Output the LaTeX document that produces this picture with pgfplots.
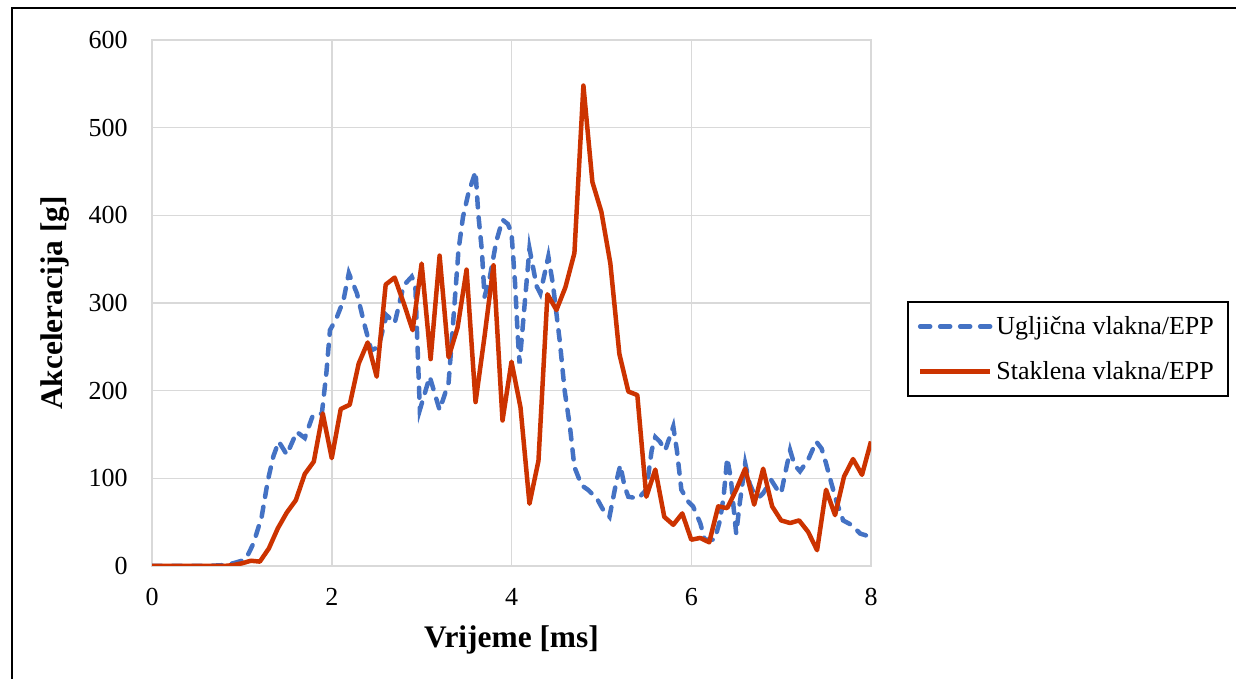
\documentclass[border=0pt]{standalone}
\usepackage{fontspec}
\setmainfont{Liberation Serif}
\usepackage{pgfplots}
\pgfplotsset{compat=1.18}
\definecolor{cblue}{HTML}{4472C4}
\definecolor{cred}{HTML}{CC3300}
\definecolor{cgrid}{HTML}{D9D9D9}
\definecolor{caxis}{HTML}{BFBFBF}
\begin{document}
\begin{tikzpicture}
\useasboundingbox (0,0) rectangle (618pt,339.5pt);
\draw[line width=1pt,black] (6pt,-20pt) -- (6pt,335.5pt) -- (640pt,335.5pt);
\begin{axis}[
  at={(76pt,56.5pt)}, anchor=south west,
  scale only axis, width=359.5pt, height=263pt,
  xmin=0, xmax=8, ymin=0, ymax=600,
  xtick={0,2,4,6,8}, ytick={0,100,200,300,400,500,600},
  grid=major, major grid style={cgrid, line width=0.75pt},
  axis line style={draw=cgrid, line width=0.75pt},
  major tick length=0pt,
  /pgf/number format/assume math mode=true,
  tick label style={font=\fontsize{13}{15}\selectfont},
  yticklabel style={anchor=east, inner sep=0pt, xshift=-12pt},
  xticklabel style={anchor=north, inner sep=0pt, yshift=-11pt},
  xlabel={\textbf{Vrijeme [ms]}},
  ylabel={\textbf{Akceleracija [g]}},
  label style={font=\fontsize{15.7}{18}\selectfont},
  xlabel style={at={(axis description cs:0.5,-0.141)}, anchor=center},
  ylabel style={at={(axis description cs:-0.135,0.5)}, anchor=center},
  legend style={at={(1.050,0.4125)}, anchor=west, draw=black, line width=1pt,
    font=\fontsize{13}{15}\selectfont, row sep=8pt, inner xsep=5pt, inner ysep=5pt,
    cells={anchor=west}},
  legend cell align=left,
  legend image code/.code={\draw[#1] (0pt,0pt) -- (35pt,0pt);},
]
\addplot[cblue, line width=2.25pt, line cap=round, dash pattern=on 5pt off 5pt] coordinates {
(0,0) (0.2,0) (0.4,0) (0.6,0) (0.8,1) (0.9,3) (1.0,6) (1.05,9) (1.13,26) (1.22,56)
(1.29,98) (1.35,125) (1.41,142) (1.50,127) (1.61,153) (1.70,146) (1.79,172) (1.89,174)
(1.94,220) (1.98,269) (2.05,282) (2.13,303) (2.19,334) (2.28,311) (2.37,273) (2.44,246)
(2.52,250) (2.61,286) (2.70,277) (2.80,320) (2.89,330) (2.93,320) (2.98,178) (3.09,216)
(3.2,178) (3.3,209) (3.35,277) (3.41,360) (3.46,398) (3.52,425) (3.60,450) (3.63,402)
(3.67,360) (3.70,307) (3.76,330) (3.83,370) (3.90,395) (3.96,390) (4.00,380) (4.04,322)
(4.07,262) (4.09,231) (4.15,303) (4.20,362) (4.28,319) (4.32,311) (4.37,334) (4.41,353)
(4.46,322) (4.54,254) (4.59,201) (4.65,159) (4.70,113) (4.78,92) (4.85,87) (4.95,77)
(5.02,64) (5.09,56) (5.17,98) (5.21,115) (5.26,90) (5.30,79) (5.41,77) (5.50,87)
(5.56,132) (5.60,147) (5.65,142) (5.71,132) (5.80,159) (5.84,132) (5.89,87) (5.97,73)
(6.02,68) (6.10,49) (6.15,30) (6.26,30) (6.32,52) (6.36,79) (6.40,123) (6.44,100)
(6.47,68) (6.50,37) (6.54,72) (6.60,117) (6.65,94) (6.70,82) (6.76,79) (6.80,83)
(6.89,98) (6.97,85) (7.00,83) (7.06,113) (7.10,132) (7.15,115) (7.21,108) (7.30,121)
(7.39,142) (7.45,134) (7.50,117) (7.56,94) (7.62,72) (7.69,52) (7.78,47) (7.88,37) (8.0,33)
};
\addlegendentry{Ugljična vlakna/EPP}
\addplot[cred, line width=2.25pt, line join=round] coordinates {
(0,0) (0.1,0) (0.2,0) (0.3,0) (0.4,0) (0.5,0) (0.6,0) (0.7,0) (0.8,0) (0.9,1)
(1.0,3) (1.1,6) (1.2,5) (1.3,20) (1.4,43) (1.5,61) (1.6,75) (1.7,105) (1.8,119) (1.9,174)
(2.0,123) (2.1,179) (2.2,184) (2.3,231) (2.4,255) (2.5,216) (2.6,321) (2.7,329) (2.8,300) (2.9,269)
(3.0,345) (3.1,236) (3.2,354) (3.3,238) (3.4,272) (3.5,338) (3.6,187) (3.7,262) (3.8,343) (3.9,166)
(4.0,233) (4.1,181) (4.2,71) (4.3,120) (4.4,310) (4.5,292) (4.6,318) (4.7,357) (4.8,548) (4.9,438)
(5.0,404) (5.1,345) (5.2,242) (5.3,199) (5.4,195) (5.5,79) (5.6,110) (5.7,56) (5.8,47) (5.9,60)
(6.0,30) (6.1,32) (6.2,27) (6.3,68) (6.4,66) (6.5,87) (6.6,111) (6.7,70) (6.8,111) (6.9,68)
(7.0,52) (7.1,49) (7.2,52) (7.3,39) (7.4,18) (7.5,87) (7.6,58) (7.7,102) (7.8,122) (7.9,104) (8.0,142)
};
\addlegendentry{Staklena vlakna/EPP}
\end{axis}
\end{tikzpicture}
\end{document}
